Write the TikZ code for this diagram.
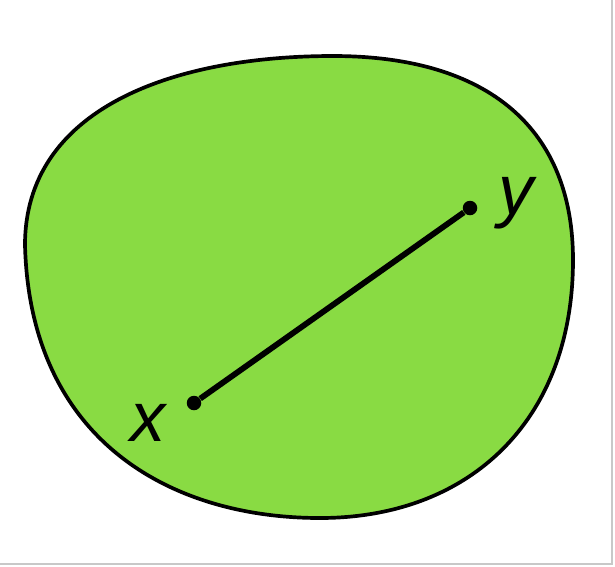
\documentclass[tikz,border=0pt]{standalone}
\usepackage{fontspec}
\newfontfamily\labelfont{Liberation Sans}
\definecolor{blobgreen}{RGB}{137,219,67}
\definecolor{edgegray}{RGB}{200,200,200}
\begin{document}
\begin{tikzpicture}[
    x={(0.02cm,0)}, y={(0,-0.02cm)},
    blob/.style={draw=black, line width=2.1pt, fill=blobgreen},
    pointdot/.style={circle, fill=black, inner sep=0pt, minimum size=0.29cm},
    pointlabel/.style={font=\labelfont\itshape\fontsize{40}{40}\selectfont, inner sep=0pt},
    segment/.style={line width=3.3pt},
]
\useasboundingbox (0,0) rectangle (615,566);
\draw[edgegray, line width=0.8pt] (612,0) -- (612,564) -- (0,564);

% the set
\coordinate (left) at (25,245);
\coordinate (top) at (333,56);
\coordinate (right) at (573,260);
\coordinate (bottom) at (320,518);
\draw[blob] (left) .. controls (25,110) and (170,56) .. (top)
    .. controls (490,56) and (573,130) .. (right)
    .. controls (573,420) and (470,518) .. (bottom)
    .. controls (170,518) and (30,440) .. (left) -- cycle;

% the two points and the segment between them
\node[pointdot] (x) at (194,403) {};
\node[pointdot] (y) at (470,208) {};
\draw[segment] (x) -- (y);

\node[pointlabel] (xlab) at (148,423) {x};
\node[pointlabel] (ylab) at (516,203) {y};
\end{tikzpicture}
\end{document}
